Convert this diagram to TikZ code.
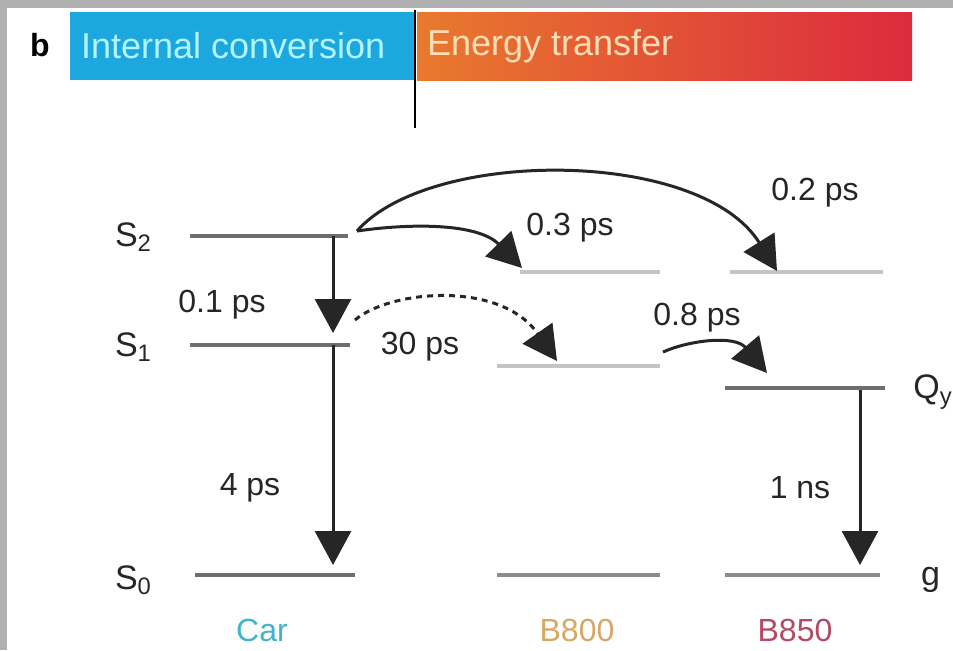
\documentclass[tikz,border=0pt]{standalone}
\usepackage{fontspec}
\setmainfont{Liberation Sans}
\usetikzlibrary{arrows.meta}
\definecolor{framegray}{HTML}{B0B0B0}
\definecolor{icblue}{HTML}{1CA8DE}
\definecolor{iclight}{HTML}{B2F4FF}
\definecolor{etorange}{HTML}{E9792E}
\definecolor{etred}{HTML}{DC2A3E}
\definecolor{etlight}{HTML}{FFDDB5}
\definecolor{levdark}{HTML}{6E6E6E}
\definecolor{levmid}{HTML}{8C8C90}
\definecolor{levlight}{HTML}{C4C4C4}
\definecolor{carcol}{HTML}{3FB4CC}
\definecolor{bchlcol}{HTML}{D6A865}
\definecolor{bchlred}{HTML}{B24A66}
\begin{document}
\begin{tikzpicture}[x=0.5pt,y=-0.5pt,
    lvl/.style={line width=2.2pt},
    rate/.style={font=\fontsize{16}{19}\selectfont,text=black!85},
    state/.style={anchor=west,font=\fontsize{17}{20}\selectfont,text=black!85},
    pigment/.style={font=\fontsize{16}{19}\selectfont},
    arr/.style={line width=1.5pt,black!85,-{Triangle[length=17pt,width=18pt]}}]
  \useasboundingbox (0,0) rectangle (953,650);
  \fill[framegray] (0,0) rectangle (953,650);
  \fill[white] (7,8) rectangle (953,650);

  \fill[icblue] (70,12) rectangle (414,80);
  \shade[left color=etorange,right color=etred] (417,12) rectangle (912,80);
  \draw[line width=1.2pt] (415,10) -- (415,128);
  \node[font=\bfseries\fontsize{16}{18}\selectfont] (panel) at (40,45) {b};
  \node[anchor=west,text=iclight,font=\fontsize{18}{22}\selectfont] (ic) at (74,46) {Internal conversion};
  \node[anchor=west,text=etlight,font=\fontsize{18}{22}\selectfont] (et) at (420,46) {Energy transfer};

  \foreach \xa/\xb/\y/\c in {190/348/236/levdark,190/350/345/levdark,195/355/575/levdark,
      520/660/272/levlight,497/660/366/levlight,497/660/575/levmid,
      730/883/272/levlight,725/885/388/levdark,725/880/575/levmid}
    {\draw[lvl,draw=\c] (\xa,\y) -- (\xb,\y);}

  \node[state] (sTwo) at (108,237) {S\textsubscript{2}};
  \node[state] (sOne) at (108,347) {S\textsubscript{1}};
  \node[state] (sZero) at (108,580) {S\textsubscript{0}};
  \node[state,inner sep=0pt] (qy) at (913,392) {Q\textsubscript{y}};
  \node[state] (gnd) at (914,580) {g};

  \coordinate (carS2) at (333,236);
  \coordinate (carS1) at (333,345);
  \coordinate (carS0) at (333,575);
  \coordinate (carS2r) at (357,231);
  \coordinate (carS1r) at (355,320);
  \coordinate (bchlS2) at (522,268);
  \coordinate (bchlQ) at (557,361);
  \coordinate (bchlQr) at (663,352);
  \coordinate (bredS2) at (777,271);
  \coordinate (bredQ) at (767,373);
  \coordinate (bredQd) at (860,390);
  \coordinate (bredG) at (860,575);

  \draw[arr,shorten >=6pt] (carS2) -- (carS1);
  \draw[arr,shorten >=5pt] (carS1) -- (carS0);
  \draw[arr,shorten >=5pt] (bredQd) -- (bredG);
  \draw[arr] (carS2r) .. controls (430,148) and (700,148) .. (bredS2);
  \draw[arr] (carS2r) .. controls (420,222) and (480,225) .. (bchlS2);
  \draw[arr,dash pattern=on 3pt off 2.5pt] (carS1r) .. controls (390,290) and (500,280) .. (bchlQ);
  \draw[arr] (bchlQr) .. controls (690,340) and (735,335) .. (bredQ);

  \node[rate] (tA) at (222,305) {0.1 ps};
  \node[rate] (tB) at (250,488) {4 ps};
  \node[rate] (tC) at (420,347) {30 ps};
  \node[rate] (tD) at (570,228) {0.3 ps};
  \node[rate] (tE) at (815,193) {0.2 ps};
  \node[rate] (tF) at (697,318) {0.8 ps};
  \node[rate] (tG) at (800,488) {1 ns};

  \node[pigment,text=carcol] (car) at (262,630) {Car};
  \node[pigment,text=bchlcol] (bchl) at (577,630) {B800};
  \node[pigment,text=bchlred] (bred) at (795,630) {B850};
\end{tikzpicture}
\end{document}
